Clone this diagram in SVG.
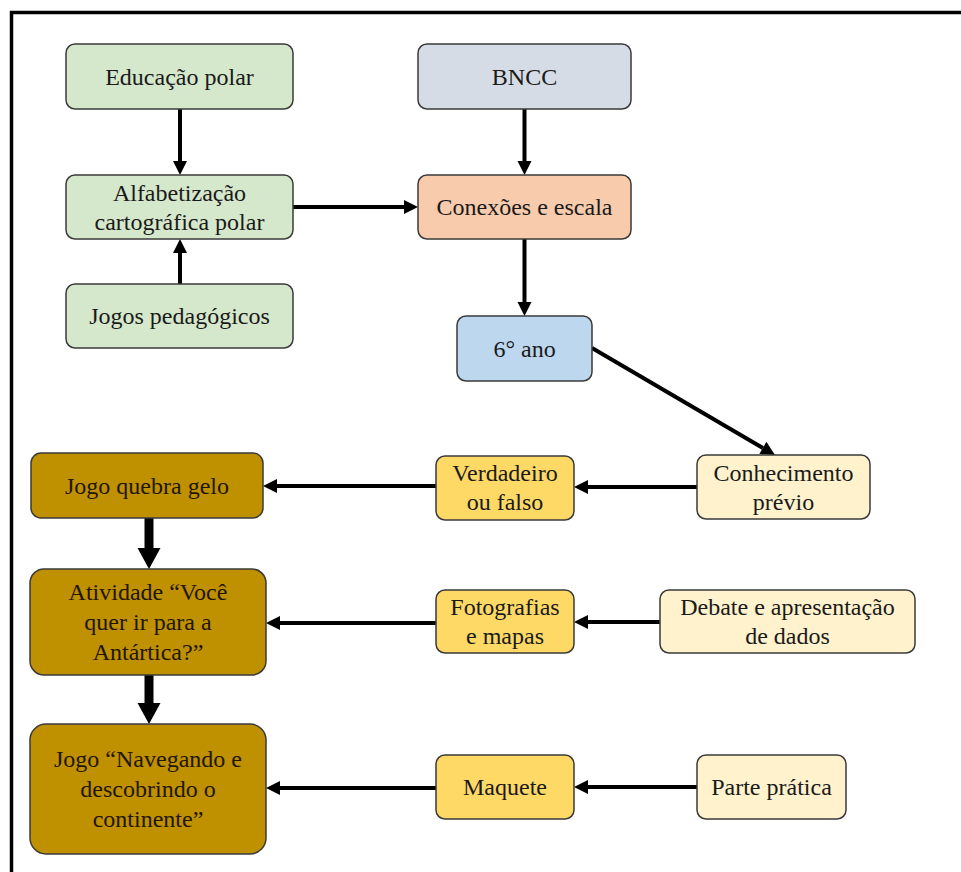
<svg xmlns="http://www.w3.org/2000/svg" width="961" height="872" viewBox="0 0 961 872">
  <style>
    .box { stroke: #3a3a3a; stroke-width: 1.5; }
    .green { fill: #d5e8cb; }
    .gray { fill: #d6dce5; }
    .peach { fill: #f8cbad; }
    .blue { fill: #bdd7ee; }
    .gold { fill: #bf9000; }
    .yellow { fill: #ffd966; }
    .cream { fill: #fff2cc; }
    .conn { stroke: #000; stroke-width: 4; fill: none; marker-end: url(#ah); }
    .thick { stroke: #000; stroke-width: 9; fill: none; marker-end: url(#ahb); }
  </style>
  <defs>
    <marker id="ah" markerUnits="userSpaceOnUse" markerWidth="16" markerHeight="16" viewBox="0 -8 16 16" refX="0" refY="0" orient="auto" overflow="visible">
      <path d="M0,-7 L14,0 L0,7 Z" fill="#000"/>
    </marker>
    <marker id="ahb" markerUnits="userSpaceOnUse" markerWidth="24" markerHeight="24" viewBox="0 -12 24 24" refX="0" refY="0" orient="auto" overflow="visible">
      <path d="M0,-11.5 L21,0 L0,11.5 Z" fill="#000"/>
    </marker>
  </defs>
  <rect x="0" y="0" width="961" height="872" fill="#fff"/>
  <path d="M11.5,872 V12.5 H961" fill="none" stroke="#000" stroke-width="3.5"/>

  <g id="connectors">
    <line class="conn" x1="180" y1="109" x2="180" y2="161"/>
    <line class="conn" x1="180" y1="284" x2="180" y2="253"/>
    <line class="conn" x1="293" y1="207" x2="404" y2="207"/>
    <line class="conn" x1="524.5" y1="109" x2="524.5" y2="161"/>
    <line class="conn" x1="524.5" y1="239" x2="524.5" y2="302"/>
    <line class="conn" x1="592" y1="348" x2="762.9" y2="447.9"/>
    <line class="conn" x1="697" y1="487" x2="588" y2="487"/>
    <line class="conn" x1="436" y1="486" x2="277" y2="486"/>
    <line class="conn" x1="660" y1="622" x2="588" y2="622"/>
    <line class="conn" x1="436" y1="623" x2="280" y2="623"/>
    <line class="conn" x1="697" y1="787" x2="588" y2="787"/>
    <line class="conn" x1="436" y1="788" x2="280" y2="788"/>
    <line class="thick" x1="149" y1="518" x2="149" y2="548"/>
    <line class="thick" x1="149" y1="675" x2="149" y2="703"/>
  </g>

  <g font-family="'Liberation Serif', 'DejaVu Serif', serif" font-size="24" fill="#1a1a1a" text-anchor="middle">
  <g id="educacao-polar">
    <rect class="box green" x="66" y="44" width="227" height="65" rx="9"/>
    <text x="179.5" y="85">Educação polar</text>
  </g>
  <g id="alfabetizacao">
    <rect class="box green" x="66" y="175" width="227" height="64" rx="9"/>
    <text x="179.5" y="200.5">Alfabetização</text>
    <text x="179.5" y="229.5">cartográfica polar</text>
  </g>
  <g id="jogos-pedagogicos">
    <rect class="box green" x="66" y="284" width="227" height="64" rx="9"/>
    <text x="179.5" y="324">Jogos pedagógicos</text>
  </g>
  <g id="bncc">
    <rect class="box gray" x="418" y="44" width="213" height="65" rx="9"/>
    <text x="524.5" y="85">BNCC</text>
  </g>
  <g id="conexoes">
    <rect class="box peach" x="418" y="175" width="213" height="64" rx="9"/>
    <text x="524.5" y="215">Conexões e escala</text>
  </g>
  <g id="sexto-ano">
    <rect class="box blue" x="457" y="316" width="135" height="65" rx="9"/>
    <text x="524.5" y="357">6° ano</text>
  </g>
  <g id="conhecimento-previo">
    <rect class="box cream" x="697" y="455" width="173" height="64" rx="9"/>
    <text x="783.5" y="480.5">Conhecimento</text>
    <text x="783.5" y="509.5">prévio</text>
  </g>
  <g id="verdadeiro-falso">
    <rect class="box yellow" x="436" y="456" width="138" height="64" rx="9"/>
    <text x="505" y="481">Verdadeiro</text>
    <text x="505" y="510">ou falso</text>
  </g>
  <g id="jogo-quebra-gelo">
    <rect class="box gold" x="31" y="453" width="232" height="65" rx="10"/>
    <text fill="#231600" x="147" y="494">Jogo quebra gelo</text>
  </g>
  <g id="fotografias-mapas">
    <rect class="box yellow" x="436" y="590" width="138" height="63" rx="9"/>
    <text x="505" y="615">Fotografias</text>
    <text x="505" y="644">e mapas</text>
  </g>
  <g id="debate">
    <rect class="box cream" x="660" y="590" width="255" height="63" rx="9"/>
    <text x="787.5" y="615">Debate e apresentação</text>
    <text x="787.5" y="644">de dados</text>
  </g>
  <g id="atividade">
    <rect class="box gold" x="30" y="569" width="236" height="106" rx="14"/>
    <text fill="#231600" x="148" y="600">Atividade “Você</text>
    <text fill="#231600" x="148" y="630">quer ir para a</text>
    <text fill="#231600" x="148" y="660">Antártica?”</text>
  </g>
  <g id="maquete">
    <rect class="box yellow" x="436" y="755" width="138" height="64" rx="9"/>
    <text x="505" y="795">Maquete</text>
  </g>
  <g id="parte-pratica">
    <rect class="box cream" x="697" y="755" width="149" height="64" rx="9"/>
    <text x="771.5" y="795">Parte prática</text>
  </g>
  <g id="jogo-navegando">
    <rect class="box gold" x="30" y="724" width="236" height="130" rx="16"/>
    <text fill="#231600" x="148" y="767">Jogo “Navegando e</text>
    <text fill="#231600" x="148" y="797">descobrindo o</text>
    <text fill="#231600" x="148" y="827">continente”</text>
  </g>
  </g>
</svg>
